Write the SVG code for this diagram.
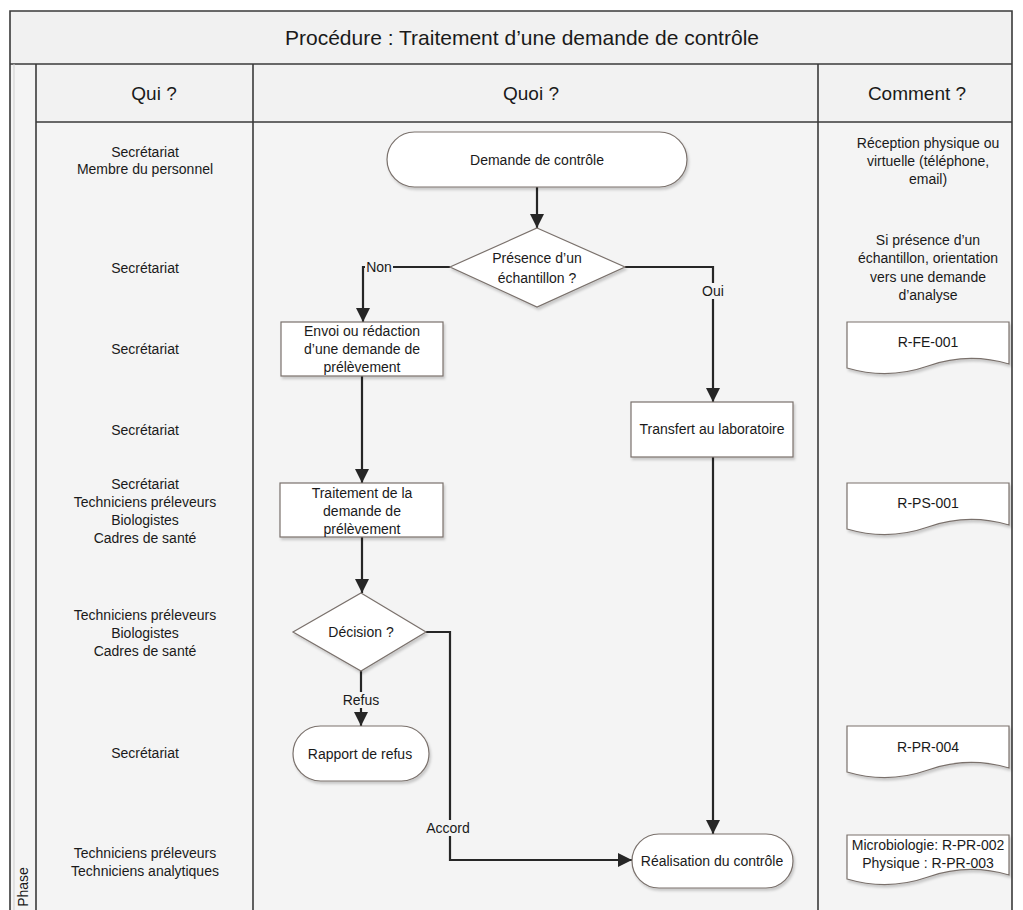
<svg xmlns="http://www.w3.org/2000/svg" width="1023" height="910" viewBox="0 0 1023 910">
<style>
  text { font-family: "Liberation Sans", Arial, sans-serif; fill: #1a1a1a; }
  .t { font-size: 14px; text-anchor: middle; dominant-baseline: central; }
  .hdr { font-size: 19px; text-anchor: middle; dominant-baseline: central; }
  .title { font-size: 21px; text-anchor: middle; dominant-baseline: central; }
  .frame { stroke: #3a3a3a; stroke-width: 1.6; fill: none; }
  .shape { fill: #ffffff; stroke: #7a716c; stroke-width: 1.2; filter: url(#sh); }
  .conn { fill: none; stroke: #262626; stroke-width: 2.2; }
  .lblbg { fill: #f4f4f4; }
</style>
<defs>
  <marker id="arr" markerUnits="userSpaceOnUse" markerWidth="14" markerHeight="14" refX="14" refY="7" orient="auto">
    <path d="M0,0 L14,7 L0,14 z" fill="#262626"/>
  </marker>
  <filter id="sh" x="-10%" y="-10%" width="125%" height="135%">
    <feDropShadow dx="1.5" dy="2.5" stdDeviation="1.2" flood-color="#000" flood-opacity="0.18"/>
  </filter>
</defs>

<rect x="0" y="0" width="1023" height="910" fill="#ffffff"/>

<g id="table">
  <rect x="10" y="11" width="1002" height="899" fill="#f4f4f4"/>
  <rect x="10" y="11" width="1002" height="53" fill="#f1f1f1"/>
  <rect x="36" y="64" width="976" height="58" fill="#f2f2f2"/>
  <path class="frame" d="M10,910 V11 H1012 V910"/>
  <line class="frame" x1="10" y1="64" x2="1012" y2="64"/>
  <line class="frame" x1="36" y1="64" x2="36" y2="910"/>
  <line x1="14" y1="64" x2="14" y2="910" stroke="#cfcfcf" stroke-width="1"/>
  <line class="frame" x1="36" y1="122" x2="1012" y2="122"/>
  <line class="frame" x1="253" y1="64" x2="253" y2="910"/>
  <line class="frame" x1="818" y1="64" x2="818" y2="910"/>
  <text class="title" x="522" y="37">Procédure : Traitement d’une demande de contrôle</text>
  <text class="hdr" x="154" y="93">Qui ?</text>
  <text class="hdr" x="531" y="93">Quoi ?</text>
  <text class="hdr" x="917" y="93">Comment ?</text>
  <text class="t" transform="translate(23,887) rotate(-90)">Phase</text>
</g>

<g id="qui">
  <text class="t" x="145" y="152">Secrétariat</text>
  <text class="t" x="145" y="169">Membre du personnel</text>
  <text class="t" x="145" y="268">Secrétariat</text>
  <text class="t" x="145" y="349">Secrétariat</text>
  <text class="t" x="145" y="430">Secrétariat</text>
  <text class="t" x="145" y="484">Secrétariat</text>
  <text class="t" x="145" y="502">Techniciens préleveurs</text>
  <text class="t" x="145" y="520">Biologistes</text>
  <text class="t" x="145" y="538">Cadres de santé</text>
  <text class="t" x="145" y="615">Techniciens préleveurs</text>
  <text class="t" x="145" y="633">Biologistes</text>
  <text class="t" x="145" y="651">Cadres de santé</text>
  <text class="t" x="145" y="753">Secrétariat</text>
  <text class="t" x="145" y="853">Techniciens préleveurs</text>
  <text class="t" x="145" y="871">Techniciens analytiques</text>
</g>

<g id="comment">
  <text class="t" x="928" y="143">Réception physique ou</text>
  <text class="t" x="928" y="161">virtuelle (téléphone,</text>
  <text class="t" x="928" y="179">email)</text>
  <text class="t" x="928" y="240">Si présence d’un</text>
  <text class="t" x="928" y="258">échantillon, orientation</text>
  <text class="t" x="928" y="277">vers une demande</text>
  <text class="t" x="928" y="295">d’analyse</text>
</g>

<g id="doc-rfe001">
  <path class="shape" d="M847,322 H1009 V364 Q968,352 928,366 T847,368 Z"/>
  <text class="t" x="928" y="342">R-FE-001</text>
</g>
<g id="doc-rps001">
  <path class="shape" d="M847,483 H1009 V525 Q968,513 928,527 T847,529 Z"/>
  <text class="t" x="928" y="503">R-PS-001</text>
</g>
<g id="doc-rpr004">
  <path class="shape" d="M847,726 H1009 V768 Q968,756 928,770 T847,772 Z"/>
  <text class="t" x="928" y="747">R-PR-004</text>
</g>
<g id="doc-rpr002">
  <path class="shape" d="M847,835 H1009 V875 Q968,863 928,877 T847,879 Z"/>
  <text class="t" x="928" y="845">Microbiologie: R-PR-002</text>
  <text class="t" x="928" y="863">Physique : R-PR-003</text>
</g>

<g id="connectors">
  <path class="conn" d="M537,187 V228" marker-end="url(#arr)"/>
  <path class="conn" d="M450,267 H363 V322" marker-end="url(#arr)"/>
  <path class="conn" d="M625,267 H713 V402" marker-end="url(#arr)"/>
  <path class="conn" d="M362,376 V483" marker-end="url(#arr)"/>
  <path class="conn" d="M362,537 V593" marker-end="url(#arr)"/>
  <path class="conn" d="M361,671 V726" marker-end="url(#arr)"/>
  <path class="conn" d="M426,632 H450 V860 H632" marker-end="url(#arr)"/>
  <path class="conn" d="M713,457 V834" marker-end="url(#arr)"/>
  <rect class="lblbg" x="365" y="259" width="28" height="16"/>
  <text class="t" x="379" y="267">Non</text>
  <rect class="lblbg" x="701" y="283" width="25" height="16"/>
  <text class="t" x="713" y="291">Oui</text>
  <rect class="lblbg" x="342" y="692" width="38" height="16"/>
  <text class="t" x="361" y="700">Refus</text>
  <rect class="lblbg" x="426" y="820" width="45" height="16"/>
  <text class="t" x="448" y="828">Accord</text>
</g>

<g id="n-demande">
  <rect class="shape" x="387" y="132" width="300" height="55" rx="27.5" ry="27.5"/>
  <text class="t" x="537" y="160">Demande de contrôle</text>
</g>
<g id="n-presence">
  <path class="shape" d="M537,228 L625,267 L537,307 L450,267 Z"/>
  <text class="t" x="537" y="258">Présence d’un</text>
  <text class="t" x="537" y="278">échantillon ?</text>
</g>
<g id="n-envoi">
  <rect class="shape" x="281" y="322" width="162" height="54"/>
  <text class="t" x="362" y="331">Envoi ou rédaction</text>
  <text class="t" x="362" y="349">d’une demande de</text>
  <text class="t" x="362" y="367">prélèvement</text>
</g>
<g id="n-transfert">
  <rect class="shape" x="631" y="402" width="162" height="55"/>
  <text class="t" x="712" y="429">Transfert au laboratoire</text>
</g>
<g id="n-traitement">
  <rect class="shape" x="280" y="483" width="163" height="54"/>
  <text class="t" x="362" y="493">Traitement de la</text>
  <text class="t" x="362" y="511">demande de</text>
  <text class="t" x="362" y="529">prélèvement</text>
</g>
<g id="n-decision">
  <path class="shape" d="M361,593 L426,632 L361,671 L293,632 Z"/>
  <text class="t" x="361" y="632">Décision ?</text>
</g>
<g id="n-rapport">
  <rect class="shape" x="293" y="726" width="136" height="55" rx="27.5" ry="27.5"/>
  <text class="t" x="360" y="754">Rapport de refus</text>
</g>
<g id="n-realisation">
  <rect class="shape" x="632" y="834" width="161" height="54" rx="27" ry="27"/>
  <text class="t" x="712" y="861">Réalisation du contrôle</text>
</g>
</svg>
